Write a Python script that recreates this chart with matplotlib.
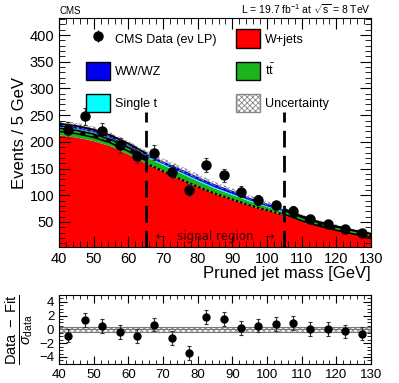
import numpy as np
import matplotlib
matplotlib.use("Agg")
import matplotlib.pyplot as plt
from matplotlib.patches import Patch

plt.rcParams['font.family'] = ['Liberation Sans', 'DejaVu Sans']
plt.rcParams['hatch.linewidth'] = 0.6
plt.rcParams['mathtext.fontset'] = 'custom'
plt.rcParams['mathtext.rm'] = 'Liberation Sans'
plt.rcParams['mathtext.it'] = 'Liberation Sans:italic'

# data points (bin centres)
data_x = [42.5, 47.5, 52.5, 57.5, 62.5, 67.5, 72.5, 77.5, 82.5, 87.5,
          92.5, 97.5, 102.5, 107.5, 112.5, 117.5, 122.5, 127.5]
data_y = [222, 248, 220, 194, 174, 180, 144, 110, 157, 137,
          107, 91, 81, 71, 56, 47, 37, 30]
pulls = [-0.9, 1.4, 0.45, -0.4, -0.95, 0.7, -1.25, -3.4, 1.85, 1.5,
         0.2, 0.55, 0.8, 0.95, 0.07, 0.1, -0.3, -0.6]

# fit components sampled every 5 GeV
mass = [40, 45, 50, 55, 60, 65, 70, 75, 80, 85, 90, 95, 100, 105, 110, 115, 120, 125, 130]
wjets = [213, 209, 202, 192, 177, 160, 145, 130, 116, 103, 92, 81, 72, 63, 52, 43, 35, 29, 23]
ttbar = [14, 14, 14, 13, 13, 12, 12, 12, 11, 10, 9, 8, 7, 6, 5, 4, 4, 3, 3]
single_t = [2, 2, 2, 2, 2, 2, 2, 2, 2, 2, 2, 2, 1, 1, 1, 1, 1, 1, 1]
wwwz = [5, 5, 5, 5, 5, 5, 5, 6, 6, 6, 6, 5, 5, 4, 3, 2, 2, 1, 1]
unc = [6, 6, 6, 5, 5, 5, 5, 5, 5, 4, 4, 4, 4, 3, 3, 3, 3, 3, 3]

m = np.array(mass, dtype=float)
s1 = np.array(wjets, dtype=float)
s2 = s1 + np.array(ttbar)
s3 = s2 + np.array(single_t)
s4 = s3 + np.array(wwwz)
band = np.array(unc, dtype=float)

fig = plt.figure(figsize=(3.99, 3.83), dpi=100)
ax = fig.add_axes([0.148, 0.355, 0.782, 0.598])
axr = fig.add_axes([0.148, 0.05, 0.782, 0.18])

ax.fill_between(m, 0, s1, color='#ff0000', lw=0)
ax.fill_between(m, s1, s2, color='#1cb41c', lw=0)
ax.fill_between(m, s2, s3, color='#00ffff', lw=0)
ax.fill_between(m, s3, s4, color='#0000ee', lw=0)
ax.fill_between(m, s4 - band, s4 + band, facecolor='none', edgecolor='#888888',
                hatch='xxxxxx', lw=0)

sig = (m >= 65) & (m <= 105)
lo = m <= 65
hi = m >= 105
ax.plot(m[sig], s1[sig], color='black', lw=1.6, ls=(0, (1, 1)))
for sel in (lo, hi):
    ax.plot(m[sel], (s1[sel] + s4[sel]) / 2 - 1, color='black', lw=3.5)
    ax.plot(m[sel], (s1[sel] + s4[sel]) / 2 - 1, color='#1cb41c', lw=1.2, ls=(0, (5, 3)))
    ax.plot(m[sel], s4[sel], color='black', lw=1.3)

ax.errorbar(data_x, data_y, yerr=np.sqrt(data_y), fmt='o', color='black',
            ms=6.5, elinewidth=0.8, capsize=1.5, capthick=0.8, ecolor='#333333')

ax.plot([65, 65], [3, 255], color='black', lw=2, ls=(0, (6, 3)))
ax.plot([105, 105], [3, 255], color='black', lw=2, ls=(0, (6, 3)))
ax.text(85, 22, '\u2190   signal region   \u2192', ha='center', va='center',
        fontsize=8.5, color='#300000', family=['DejaVu Sans'])

ax.set_xlim(40, 130)
ax.set_ylim(3, 432)
ax.set_yticks([50, 100, 150, 200, 250, 300, 350, 400])
ax.set_xticks(range(40, 131, 10))
ax.set_xticks(range(40, 131, 2), minor=True)
ax.set_yticks(range(10, 431, 10), minor=True)
ax.tick_params(which='both', direction='in', top=True, right=True, labelsize=10.5)
ax.tick_params(which='major', length=8)
ax.tick_params(which='minor', length=4)
ax.set_ylabel('Events / 5 GeV', fontsize=12, labelpad=2)
ax.set_xlabel('Pruned jet mass [GeV]', fontsize=12, loc='right', labelpad=0)

ax.text(0.0, 1.01, 'CMS', transform=ax.transAxes, fontsize=7, ha='left', va='bottom')
ax.text(1.0, 1.01, r'L = 19.7 fb$^{-1}$ at $\sqrt{\mathrm{s}}$ = 8 TeV', transform=ax.transAxes,
        fontsize=7.5, ha='right', va='bottom')

h_data = ax.errorbar([], [], yerr=[], fmt='o', color='black', ms=6.5, elinewidth=0.8)
handles = [
    h_data,
    Patch(facecolor='#0000ee', edgecolor='black', lw=1),
    Patch(facecolor='#00ffff', edgecolor='black', lw=1),
    Patch(facecolor='#ff0000', edgecolor='black', lw=1),
    Patch(facecolor='#1cb41c', edgecolor='black', lw=1),
    Patch(facecolor='white', edgecolor='#888888', hatch='xxxxxx', lw=1),
]
labels = ['CMS Data (e\u03bd LP)', 'WW/WZ', 'Single t', 'W+jets', r't$\bar{\mathrm{t}}$', 'Uncertainty']
ax.legend(handles, labels, ncol=2, loc='upper left', bbox_to_anchor=(0.05, 1.0),
          frameon=False, fontsize=9, handlelength=1.9, handleheight=1.9,
          labelspacing=1.1, columnspacing=1.6, handletextpad=0.4)

# residual panel
axr.fill_between([40, 130], [-0.4, -0.4], [0.4, 0.4], facecolor='none',
                 edgecolor='#888888', hatch='xxxxxx', lw=0)
axr.axhline(0.4, color='#777777', lw=0.8)
axr.axhline(-0.4, color='#777777', lw=0.8)
axr.axhline(0, color='#777777', lw=0.8)
axr.errorbar(data_x, pulls, yerr=np.ones(len(pulls)), fmt='o', color='black',
             ms=5, elinewidth=0.8, capsize=1.5, capthick=0.8, ecolor='#333333')
axr.set_xlim(40, 130)
axr.set_ylim(-5, 5)
axr.set_yticks([-4, -2, 0, 2, 4])
axr.set_yticks(np.arange(-5, 5.1, 0.5), minor=True)
axr.set_xticks(range(40, 131, 10))
axr.set_xticks(range(40, 131, 2), minor=True)
axr.tick_params(which='both', direction='in', top=True, right=True, labelsize=9.5)
axr.tick_params(which='major', length=6)
axr.tick_params(which='minor', length=3)
axr.set_ylabel(r'$\frac{\mathrm{Data\ -\ Fit}}{\sigma_{\mathrm{data}}}$', fontsize=15, labelpad=2)

fig.savefig('out.png', dpi=100)
